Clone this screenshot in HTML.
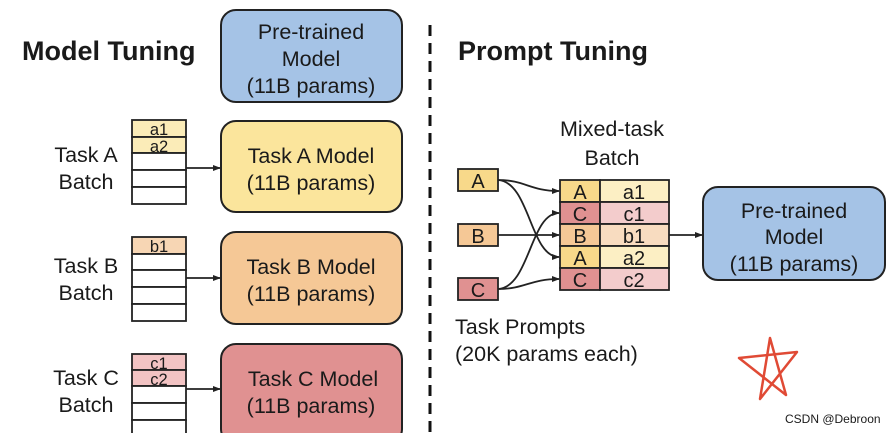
<!DOCTYPE html>
<html><head><meta charset="utf-8"><style>
html,body{margin:0;padding:0;background:#fff;width:895px;height:433px;overflow:hidden}
text{font-family:"Liberation Sans",sans-serif;fill:#1a1a1a}
</style></head><body>
<svg width="895" height="433" viewBox="0 0 895 433" xmlns="http://www.w3.org/2000/svg">
<defs><marker id="ar" markerWidth="8" markerHeight="8" refX="7" refY="4" orient="auto" markerUnits="userSpaceOnUse"><path d="M0,1 L8,4 L0,7 z" fill="#222"/></marker></defs>
<text x="22" y="60" font-size="27" font-weight="bold" fill="#111">Model Tuning</text>
<text x="458" y="60" font-size="27" font-weight="bold" fill="#111">Prompt Tuning</text>
<line x1="430" y1="25" x2="430" y2="433" stroke="#111" stroke-width="3" stroke-dasharray="11,7"/>
<g stroke="#222" stroke-width="2">
<rect x="221" y="10" width="181" height="92" rx="15" fill="#a5c3e6"/>
<rect x="221" y="121" width="181" height="91" rx="15" fill="#fbe59c"/>
<rect x="221" y="232" width="181" height="92" rx="15" fill="#f5c896"/>
<rect x="221" y="344" width="181" height="100" rx="15" fill="#e09191"/>
<rect x="703" y="187" width="182" height="93" rx="15" fill="#a5c3e6"/>
</g>
<g font-size="21.5" text-anchor="middle">
<text x="311" y="39">Pre-trained</text><text x="311" y="66">Model</text><text x="311" y="93">(11B params)</text>
<text x="311" y="163">Task A Model</text><text x="311" y="190">(11B params)</text>
<text x="311" y="274">Task B Model</text><text x="311" y="301">(11B params)</text>
<text x="313" y="386">Task C Model</text><text x="311" y="413">(11B params)</text>
<text x="794" y="218">Pre-trained</text><text x="794" y="244">Model</text><text x="794" y="271">(11B params)</text>
<text x="86" y="162">Task A</text><text x="86" y="189">Batch</text>
<text x="86" y="273">Task B</text><text x="86" y="300">Batch</text>
<text x="86" y="385">Task C</text><text x="86" y="412">Batch</text>
<text x="612" y="136">Mixed-task</text><text x="612" y="165">Batch</text>
</g>
<text x="455" y="334" font-size="21.5">Task Prompts</text>
<text x="455" y="361" font-size="21.5">(20K params each)</text>
<g stroke="#222" stroke-width="1.8">
<rect x="132" y="120" width="54" height="17" fill="#fbecb8"/><rect x="132" y="137" width="54" height="16" fill="#fbecb8"/>
<rect x="132" y="153" width="54" height="17" fill="#fff"/><rect x="132" y="170" width="54" height="17" fill="#fff"/><rect x="132" y="187" width="54" height="17" fill="#fff"/>
<rect x="132" y="237" width="54" height="17" fill="#f7d6b4"/>
<rect x="132" y="254" width="54" height="16" fill="#fff"/><rect x="132" y="270" width="54" height="17" fill="#fff"/><rect x="132" y="287" width="54" height="17" fill="#fff"/><rect x="132" y="304" width="54" height="17" fill="#fff"/>
<rect x="132" y="354" width="54" height="16" fill="#f2c3c3"/><rect x="132" y="370" width="54" height="16" fill="#f2c3c3"/>
<rect x="132" y="386" width="54" height="17" fill="#fff"/><rect x="132" y="403" width="54" height="17" fill="#fff"/><rect x="132" y="420" width="54" height="17" fill="#fff"/>
<line x1="186" y1="168" x2="220" y2="168" marker-end="url(#ar)"/>
<line x1="186" y1="278" x2="220" y2="278" marker-end="url(#ar)"/>
<line x1="186" y1="389" x2="220" y2="389" marker-end="url(#ar)"/>
<rect x="458" y="169" width="40" height="22" fill="#f8d98a"/>
<rect x="458" y="224" width="40" height="22" fill="#f5c896"/>
<rect x="458" y="278" width="40" height="22" fill="#e09191"/>
<rect x="560" y="180" width="40" height="22" fill="#f8d98a"/><rect x="600" y="180" width="69" height="22" fill="#fcefc4"/>
<rect x="560" y="202" width="40" height="22" fill="#e09191"/><rect x="600" y="202" width="69" height="22" fill="#f3cccc"/>
<rect x="560" y="224" width="40" height="22" fill="#f5c896"/><rect x="600" y="224" width="69" height="22" fill="#f8dcc0"/>
<rect x="560" y="246" width="40" height="22" fill="#f8d98a"/><rect x="600" y="246" width="69" height="22" fill="#fcefc4"/>
<rect x="560" y="268" width="40" height="22" fill="#e09191"/><rect x="600" y="268" width="69" height="22" fill="#f3cccc"/>
<line x1="669" y1="235" x2="702" y2="235" marker-end="url(#ar)"/>
<g fill="none">
<path d="M498,180 C525,180 530,191 559,191" marker-end="url(#ar)"/>
<path d="M498,180 C530,182 530,257 559,257" marker-end="url(#ar)"/>
<line x1="498" y1="235" x2="559" y2="235" marker-end="url(#ar)"/>
<path d="M498,289 C530,287 530,213 559,213" marker-end="url(#ar)"/>
<path d="M498,289 C525,289 530,279 559,279" marker-end="url(#ar)"/>
</g>
</g>
<g font-size="16.5" text-anchor="middle" fill="#333">
<text x="159" y="135">a1</text><text x="159" y="152">a2</text><text x="159" y="252">b1</text>
<text x="159" y="369">c1</text><text x="159" y="385">c2</text>
</g>
<g font-size="20" text-anchor="middle">
<text x="478" y="188">A</text><text x="478" y="243">B</text><text x="478" y="297">C</text>
<text x="580" y="199">A</text><text x="634" y="199">a1</text>
<text x="580" y="221">C</text><text x="634" y="221">c1</text>
<text x="580" y="243">B</text><text x="634" y="243">b1</text>
<text x="580" y="265">A</text><text x="634" y="265">a2</text>
<text x="580" y="287">C</text><text x="634" y="287">c2</text>
</g>
<path d="M739,358 L797,352 L760,399 L770,338 L786,395 Z" fill="none" stroke="#e04a35" stroke-width="2.5" stroke-linejoin="round"/>
<text x="785" y="423" font-size="12" fill="#666">CSDN @Debroon</text>
</svg>
</body></html>
